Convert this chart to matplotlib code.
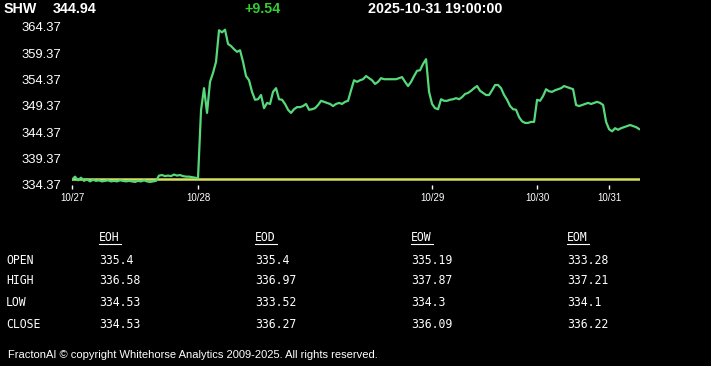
import numpy as np
import matplotlib
matplotlib.use("Agg")
import matplotlib.pyplot as plt
from matplotlib.lines import Line2D

# ---------------- data ----------------
symbol = "SHW"
last_price = "344.94"
change = "+9.54"
timestamp = "2025-10-31 19:00:00"
prev_close = 335.40

price = [
    # 10/27
    335.3, 335.9, 335.2, 335.7, 335.1, 335.4, 335.0, 335.3, 335.1, 335.2,
    335.0, 335.1, 335.2, 335.0, 335.1, 335.0, 335.2, 335.1, 335.0, 335.1,
    335.0, 334.9, 335.1, 335.0, 335.2, 335.0, 334.9, 335.0, 335.1, 336.1,
    336.2, 336.0, 336.1, 336.0, 336.3, 336.1, 336.2, 336.0, 335.9, 335.9,
    335.8, 335.7, 335.6,
    # 10/28
    348.5, 352.7, 348.0, 353.9, 355.6, 357.7, 363.7, 363.3, 363.8, 361.1,
    360.7, 360.1, 359.6, 359.9, 357.7, 355.0, 354.2, 352.0, 350.5, 350.6,
    351.4, 348.9, 349.9, 349.7, 352.0, 352.7, 350.6, 350.5, 349.7, 348.6,
    348.0, 348.7, 349.1, 349.1, 349.3, 349.7, 348.6, 348.7, 348.9, 349.5,
    350.3, 350.1, 349.9, 349.7, 349.3, 349.7, 349.9, 349.7, 350.1, 350.3,
    352.3, 354.2, 353.9, 354.2, 354.4, 355.0, 354.6, 354.2, 353.5, 353.9,
    354.6, 354.4, 354.4, 354.4, 354.4, 354.4, 354.6, 354.8, 353.9, 353.1,
    353.9, 355.0, 356.0, 356.1, 357.3, 358.2, 352.0,
    # 10/29
    349.7, 348.9, 348.7, 350.6, 350.3, 350.3, 350.5, 350.6, 350.8, 350.6,
    351.0, 351.6, 351.8, 352.2, 352.7, 353.1, 352.2, 351.8, 351.4, 351.4,
    352.3, 353.3, 353.3, 352.7, 351.4, 350.5, 349.3, 348.7, 348.6, 347.2,
    346.4, 346.1, 346.1, 346.3, 346.3,
    # 10/30
    350.5, 350.3, 351.2, 352.5, 352.1, 352.0, 352.3, 352.5, 352.7, 353.1,
    352.9, 352.7, 352.5, 349.5, 349.3, 349.5, 349.7, 349.9, 349.7, 349.9,
    350.1, 349.9, 349.5, 346.3,
    # 10/31
    344.9, 344.5, 345.1, 344.8, 345.1, 345.3, 345.5, 345.7, 345.5, 345.3,
    344.94,
]

tick_index = [0, 42, 120, 155, 179]
tick_labels = ["10/27", "10/28", "10/29", "10/30", "10/31"]

y_min, y_max = 334.37, 364.37
y_ticks = [334.37, 339.37, 344.37, 349.37, 354.37, 359.37, 364.37]

table_cols = ["EOH", "EOD", "EOW", "EOM"]
table_rows = ["OPEN", "HIGH", "LOW", "CLOSE"]
table_vals = [
    ["335.4", "335.4", "335.19", "333.28"],
    ["336.58", "336.97", "337.87", "337.21"],
    ["334.53", "333.52", "334.3", "334.1"],
    ["334.53", "336.27", "336.09", "336.22"],
]
footer = "FractonAI \u00a9 copyright Whitehorse Analytics 2009-2025. All rights reserved."

# ---------------- figure ----------------
W, H = 711, 366
fig = plt.figure(figsize=(W / 100, H / 100), dpi=100, facecolor="black")

def fx(px):
    return px / W

def fy(py):
    return 1 - py / H

ax = fig.add_axes([fx(72), fy(184.7), fx(640) - fx(72), fy(26.7) - fy(184.7)])
ax.set_facecolor("black")
x = np.arange(len(price))
ax.plot(x, price, color="#55d97a", lw=1.6, solid_joinstyle="round", zorder=3)
ax.axhline(prev_close, color="#d6e05a", lw=1.8, zorder=2)
ax.set_xlim(0, len(price) - 1 + 0.3)
ax.set_ylim(y_min, y_max)
for s in ax.spines.values():
    s.set_visible(False)

sans = ["Liberation Sans", "DejaVu Sans"]
ax.set_yticks(y_ticks)
ax.set_yticklabels([f"{v:.2f}" for v in y_ticks], family=sans, fontsize=9.4,
                   color="white")
ax.tick_params(axis="y", length=0, pad=7.9)
ax.set_xticks(tick_index)
ax.set_xticklabels(tick_labels, family=sans, fontsize=7, color="white")
ax.tick_params(axis="x", length=3, width=1, color="white", pad=3,
               direction="out")

# header
hdr = dict(family=sans, fontsize=10.3, fontweight="bold", va="center", ha="left")
fig.text(fx(3.5), fy(9), symbol, color="white", **hdr)
fig.text(fx(53), fy(9), last_price, color="white", **hdr)
fig.text(fx(244), fy(9), change, color="#33cc33", **hdr)
fig.text(fx(368), fy(9), timestamp, color="white", **hdr)

# table
mono = dict(family="DejaVu Sans Mono", fontsize=8.3, color="white",
            va="center", ha="left")
col_x = [99, 255, 411, 567]
row_y = [260.3, 280.7, 302, 324.7]
for cx, name in zip(col_x, table_cols):
    fig.text(fx(cx), fy(238), name, **mono)
    fig.add_artist(Line2D([fx(cx), fx(cx + 22)], [fy(243.5), fy(243.5)],
                          color="white", lw=0.8))
for ry, rname, vals in zip(row_y, table_rows, table_vals):
    fig.text(fx(6), fy(ry), rname, **mono)
    for cx, v in zip(col_x, vals):
        fig.text(fx(cx), fy(ry), v, **mono)

fig.text(fx(8), fy(355), footer, family=sans, fontsize=8.0, color="white",
         va="center", ha="left")

fig.savefig("out.png", dpi=100, facecolor="black")
